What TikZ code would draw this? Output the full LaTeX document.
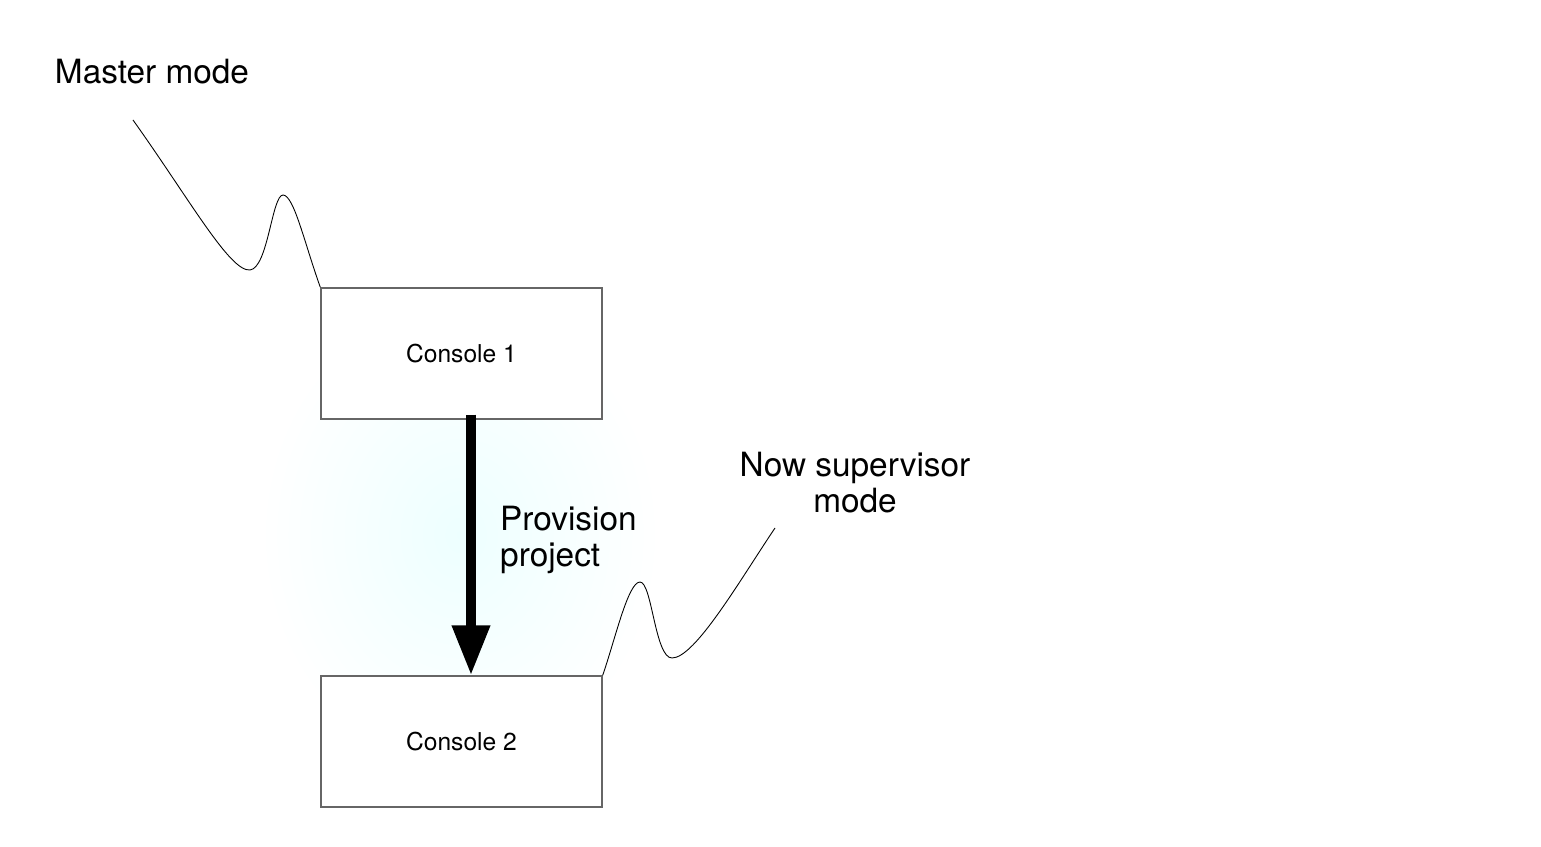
\documentclass[tikz,border=0pt]{standalone}
\usepackage{fontspec}
\setmainfont{TeX Gyre Heros}
\usetikzlibrary{arrows.meta}

\begin{document}
\begin{tikzpicture}[x=0.02cm,y=-0.02cm,
    console/.style={draw=black!60,line width=0.8pt,fill=white,minimum width=5.62cm,minimum height=2.62cm,font=\fontsize{14}{16}\selectfont},
    note/.style={font=\fontsize{19}{20.5}\selectfont}]
          \useasboundingbox (0,0) rectangle (1541,847);

          % Schein hinter den Konsolen
          \shade[inner color=cyan!7!white,outer color=white,draw=none] (460,535) ellipse (200 and 235);

          % Konsolen
          \node[console] (con1) at (461.5,353.5) {Console 1};
          \node[console] (con2) at (461.5,741.5) {Console 2};

          % Pfeil
          \draw[line width=0.2cm,-{Triangle[length=1cm,width=0.72cm]}]
            ([xshift=0.19cm,yshift=0.1cm]con1.south) -- ([xshift=0.19cm]con2.north);
          \node[note,align=left,anchor=west] (prov) at (494,540) {Provision\\project};

          % Beschriftungen
          \node[note] (master) at (152,72) {Master mode};
          \node[note,align=center] (super) at (855,483) {Now supervisor\\mode};

          % Wellenlinien
          \draw[line width=0.5pt] (133,120) .. controls (190,200) and (230,272) .. (250,270)
            .. controls (268,268) and (272,195) .. (283,195)
            .. controls (294,195) and (305,245) .. (con1.north west);
          \draw[line width=0.5pt] (con2.north east) .. controls (615,640) and (628,582) .. (640,582)
            .. controls (652,582) and (655,658) .. (672,658)
            .. controls (695,658) and (740,580) .. (775,528);
        \end{tikzpicture}
\end{document}
